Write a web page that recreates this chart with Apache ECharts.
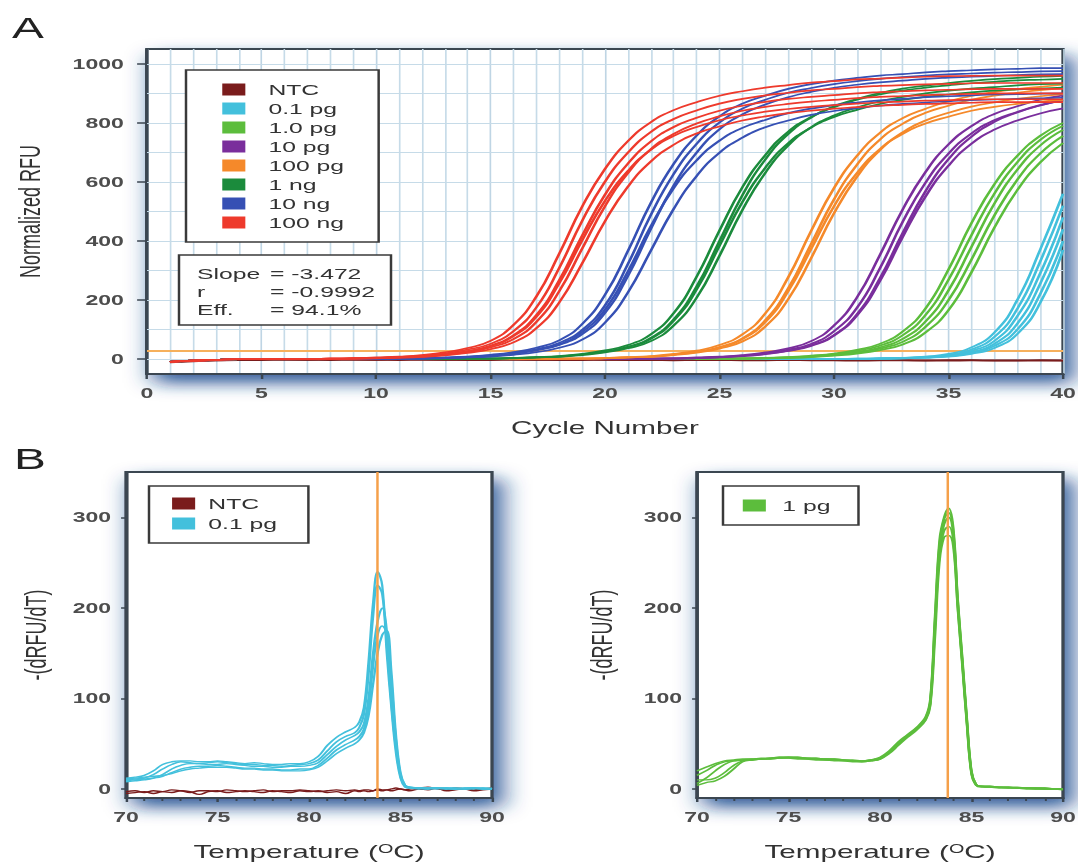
<!DOCTYPE html>
<html><head><meta charset="utf-8">
<script src="https://cdn.jsdelivr.net/npm/echarts@6/dist/echarts.min.js"></script>
<style>
html,body{margin:0;padding:0;background:#fff;overflow:hidden;}
#wrap{width:1078px;height:864px;overflow:hidden;position:relative;}
#chart{width:654px;height:864px;transform:scaleX(1.64832);transform-origin:0 0;}
</style></head><body>
<div id="wrap"><div id="chart"></div></div>
<script>
// ---------------- DATA ----------------
const cycles = [1,2,3,4,5,6,7,8,9,10,11,12,13,14,15,16,17,18,19,20,21,22,23,24,25,26,27,28,29,30,31,32,33,34,35,36,37,38,39,40];
const ampNames = ['NTC','0.1 pg','1.0 pg','10 pg','100 pg','1 ng','10 ng','100 ng'];
const thresholdRFU = 30;
const yTicksA = [0,200,400,600,800,1000];
const yGridA = [0,100,200,300,400,500,600,700,800,900,1000];
const statLabels = ['Slope','r','Eff.'];
const statValues = ['= -3.472','= -0.9992','= 94.1%'];

const ntcCurves = [
 [-9,-6,-4,-3,-3,-2,-2,-3,-2,-2, -3,-2,-2,-3,-3,-2,-2,-3,-3,-2, -3,-3,-4,-3,-3,-4,-4,-3,-4,-4, -5,-4,-4,-5,-5,-4,-5,-5,-5,-5],
 [-11,-7,-4,-2,-1,-1,-2,-1,-1,-2, -1,-1,-2,-2,-1,-1,-2,-2,-1,-2, -2,-1,-2,-2,-3,-2,-2,-3,-3,-2, -3,-3,-3,-4,-3,-3,-4,-4,-3,-4]
];
const curves01pg = [
 [-9,-5,-2,0,0,0,0,0,0,0, 0,0,0,0,0,0,0,0,0,0, 0,1,1,1,1,1,1,1,1,1, 2,3,5,9,18,40,90,200,370,560],
 [-9,-5,-2,0,0,0,0,0,0,0, 0,0,0,0,0,0,0,0,0,0, 0,1,1,1,1,1,1,1,1,1, 2,3,5,8,15,33,75,170,330,520],
 [-9,-5,-2,0,0,0,0,0,0,0, 0,0,0,0,0,0,0,0,0,0, 0,1,1,1,1,1,1,1,1,1, 1,2,4,7,13,28,62,145,290,480],
 [-9,-5,-2,0,0,0,0,0,0,0, 0,0,0,0,0,0,0,0,0,0, 0,1,1,1,1,1,1,1,1,1, 1,2,4,6,11,24,52,120,255,440],
 [-9,-5,-2,0,0,0,0,0,0,0, 0,0,0,0,0,0,0,0,0,0, 0,1,1,1,1,1,1,1,1,1, 1,2,3,5,10,21,45,100,220,400],
 [-9,-5,-2,0,0,0,0,0,0,0, 0,0,0,0,0,0,0,0,0,0, 0,1,1,1,1,1,1,1,1,1, 1,2,3,5,9,18,38,85,190,370]
];
const curves1pg = [
 [-9,-5,-2,0,0,0,0,0,0,0, 0,0,1,1,1,1,1,1,1,1, 1,1,1,2,2,3,5,7,12,19, 32,52,94,172,304,460,592,688,756,800],
 [-9,-5,-2,0,0,0,0,0,0,0, 0,0,1,1,1,1,1,1,1,1, 1,1,1,2,2,3,4,6,11,17, 29,46,81,150,269,420,560,666,742,790],
 [-9,-5,-2,0,0,0,0,0,0,0, 0,0,1,1,1,1,1,1,1,1, 1,1,1,2,2,2,4,6,9,16, 25,40,69,128,233,380,526,641,723,776],
 [-9,-5,-2,0,0,0,0,0,0,0, 0,0,1,1,1,1,1,1,1,1, 1,1,1,2,2,2,3,5,8,14, 22,36,59,110,200,337,486,607,696,756],
 [-9,-5,-2,0,0,0,0,0,0,0, 0,0,1,1,1,1,1,1,1,1, 1,1,1,2,2,2,3,4,7,12, 19,31,50,91,166,294,445,572,666,732]
];
const curves10pg = [
 [-9,-5,-2,0,0,0,0,0,0,0, 1,1,1,1,1,1,1,1,1,1, 2,2,3,6,9,14,23,37,61,114, 209,352,507,634,727,789,830,856,878,893],
 [-9,-5,-2,0,0,0,0,0,0,0, 1,1,1,1,1,1,1,1,1,1, 2,2,3,5,7,12,20,33,52,95, 174,307,465,598,696,764,809,837,860,876],
 [-9,-5,-2,0,0,0,0,0,0,0, 1,1,1,1,1,1,1,1,1,1, 2,2,2,4,6,10,17,28,45,80, 148,264,414,551,655,729,777,808,832,849],
 [-9,-5,-2,0,0,0,0,0,0,0, 1,1,1,1,1,1,1,1,1,1, 2,2,2,4,7,11,18,29,47,82, 152,273,427,569,677,753,803,835,859,877]
];
const curves100pg = [
 [-9,-5,-2,0,0,0,0,0,1,1, 1,1,1,1,1,1,1,2,3,4, 7,11,18,29,48,84,155,277,434,579, 688,766,816,848,873,891,904,914,922,929],
 [-9,-5,-2,0,0,0,0,0,1,1, 1,1,1,1,1,1,1,2,2,4, 6,9,16,25,41,71,132,240,390,541, 658,743,797,834,858,878,892,902,911,917],
 [-9,-5,-2,0,0,0,0,0,1,1, 1,1,1,1,1,1,1,2,2,3, 6,8,14,22,36,60,111,203,342,494, 617,707,768,808,834,855,869,881,890,897],
 [-9,-5,-2,0,0,0,0,0,1,1, 1,1,1,1,1,1,1,2,2,4, 6,9,15,24,39,68,126,230,373,518, 630,711,763,798,821,841,854,864,872,878]
];
const curves1ng = [
 [-9,-5,-2,0,0,0,0,1,1,1, 1,1,1,2,3,4,7,11,18,30, 48,84,156,279,436,582,691,770,820,853, 878,896,909,919,927,934,939,944,946,949],
 [-9,-5,-2,0,0,0,0,1,1,1, 1,1,1,2,2,4,6,10,16,26, 42,72,135,246,400,555,676,762,818,856, 881,901,916,926,935,942,948,952,956,959],
 [-9,-5,-2,0,0,0,0,1,1,1, 1,1,1,2,2,4,6,9,16,25, 41,69,130,236,384,532,648,731,784,820, 844,864,878,888,896,903,909,913,916,919],
 [-9,-5,-2,0,0,0,0,1,1,1, 1,1,1,2,2,3,6,8,14,23, 37,61,114,208,350,505,631,723,785,825, 852,873,888,900,909,916,921,927,931,933]
];
const curves10ng = [
 [-9,-5,-2,0,0,0,1,1,1,1, 2,3,6,9,15,24,39,64,119,218, 366,529,661,757,822,865,892,915,931,943, 952,960,965,971,975,978,981,983,985,985],
 [-9,-5,-2,0,0,0,1,1,1,1, 2,3,5,8,13,20,34,55,99,182, 322,488,627,729,801,848,878,902,918,931, 941,949,955,960,964,967,970,972,974,975],
 [-9,-5,-2,0,0,0,1,1,1,1, 2,3,5,7,12,19,32,50,92,168, 297,450,579,673,740,783,810,833,848,860, 869,876,881,887,890,893,896,897,899,900],
 [-9,-5,-2,0,0,0,1,1,1,1, 2,3,4,7,11,18,30,48,85,157, 282,441,588,699,778,829,862,887,905,919, 929,937,943,949,953,956,959,962,964,965],
 [-9,-5,-2,0,0,0,1,1,1,1, 2,2,4,6,9,15,24,39,66,124, 226,367,509,620,699,750,785,808,827,840, 850,858,864,869,873,877,879,881,883,885]
];
const curves100ng = [
 [-9,-5,-2,0,0,1,1,2,3,6, 9,14,23,38,62,116,212,357,516,644, 738,802,843,870,892,907,919,928,936,941, 947,950,953,956,958,959,960,960,960,960],
 [-9,-5,-2,0,0,1,1,2,3,5, 7,12,20,33,52,95,175,309,468,601, 699,769,813,842,865,881,893,902,910,915, 921,925,928,930,932,934,935,935,935,935],
 [-9,-5,-2,0,0,1,1,2,3,4, 6,11,17,28,46,81,149,267,418,557, 662,737,786,817,841,858,871,881,888,894, 900,904,907,910,912,914,915,915,915,915],
 [-9,-5,-2,0,0,1,1,2,3,4, 6,10,17,27,44,78,143,257,402,536, 637,709,756,786,809,825,838,847,854,860, 865,869,872,875,877,879,880,880,880,880],
 [-9,-5,-2,0,0,1,1,1,2,4, 6,9,15,24,40,68,126,230,374,518, 630,711,763,798,822,841,854,864,872,878, 884,888,891,894,896,898,900,900,900,900],
 [-9,-5,-2,0,0,1,1,1,2,3, 5,8,13,21,34,57,105,192,324,467, 584,669,726,764,788,808,822,833,841,848, 853,858,861,864,866,868,870,870,870,870]
];

// Melt curves (panel B)
const meltTemps = [70,70.5,71,71.5,72,72.5,73,73.5,74,74.5,75,75.5,76,76.5,77,77.5,78,78.5,79,79.5,80,80.5,81,81.5,82,82.5,82.75,83,83.25,83.5,83.75,84,84.25,84.5,84.75,85,85.25,85.5,86,86.5,87,87.5,88,88.5,89,89.5,90];
const meltTm = 83.7;
const yTicksB = [0,100,200,300];
const meltNamesLeft = ['NTC','0.1 pg'];
const meltNamesRight = ['1 pg'];
const meltNTC = [
 [-3,-2,-4,-2,-3,-1,-2,-4,-2,-2, -3,-1,-2,-3,-2,-1,-3,-2,-2,-1, -2,-3,-2,-1,-2,-1,-2,-1,-1,-2, 0,-1,-1,0,1,0,-1,0,1,2, 0,-1,1,0,-1,0,1],
 [-5,-4,-3,-5,-3,-4,-2,-3,-6,-3, -2,-4,-3,-2,-3,-4,-2,-3,-4,-2, -3,-2,-4,-3,-5,-2,-3,-2,-3,-2, -1,-2,-1,-2,-1,0,-1,-2,0,-1, 1,-2,-1,0,-2,-1,0]
];
const melt01pg = [
 [12,13,15,20,27,30,31,31,30,30, 31,30,29,28,29,28,27,27,28,28, 30,36,48,57,63,68,74,90,140,205, 240,225,150,90,40,12,2,1,0,1, 1,0,1,0,1,0,1],
 [10,11,12,16,22,27,30,29,28,29, 30,29,28,27,27,26,26,25,26,27, 28,32,42,52,58,62,68,82,125,190, 225,215,160,95,45,14,3,1,1,0, 1,1,0,1,1,0,0],
 [8,9,10,12,16,22,26,28,28,27, 27,28,27,26,25,25,24,24,25,25, 26,29,38,47,54,59,63,72,100,150, 185,200,175,110,50,15,3,2,1,1, 0,1,1,0,0,1,0],
 [9,10,11,12,14,18,22,24,25,25, 26,25,24,23,23,22,22,21,21,22, 22,26,34,43,49,54,58,66,90,135, 170,180,172,120,55,16,4,2,1,1, 1,0,0,1,1,0,0],
 [11,12,13,14,15,17,20,22,23,24, 24,24,23,22,22,21,21,20,20,20, 21,24,31,39,45,50,54,62,80,115, 150,170,175,130,60,18,4,2,1,0, 1,1,0,0,1,1,0]
];
const melt1pg = [
 [20,24,28,31,32,33,33,34,34,35, 35,35,34,34,33,33,32,32,31,32, 35,42,52,60,68,80,100,190,275,300, 310,290,210,145,78,20,5,3,3,2, 2,2,1,1,1,0,0],
 [6,12,20,27,31,32,33,33,34,34, 35,34,34,33,33,32,32,31,31,32, 34,41,50,59,67,78,96,180,265,292, 300,282,205,140,74,18,5,3,2,2, 2,1,1,1,0,0,0],
 [10,10,12,18,26,31,32,33,33,34, 34,34,33,33,32,32,31,31,30,31, 33,40,49,58,66,77,94,175,258,285, 290,275,200,138,72,17,4,3,2,2, 1,1,1,0,0,0,0],
 [15,20,26,30,31,32,32,33,33,34, 34,33,33,32,32,31,31,30,30,31, 33,39,48,57,65,76,92,165,250,278, 280,268,198,135,70,16,4,2,2,1, 1,1,0,0,0,0,-1],
 [4,7,9,14,22,30,32,33,34,35, 35,35,34,34,33,33,32,31,31,32, 34,41,51,59,67,79,98,185,270,298, 305,286,208,142,76,19,5,3,3,2, 2,1,1,1,1,0,0]
];

// ---------------- STYLE / LAYOUT ----------------
const SX = 1078 / 654;
const px = v => v / SX;
const FONT = '"Liberation Sans", Arial, Helvetica, sans-serif';
const ampColors = ['#7a1c1c','#43c0dc','#5cbd3c','#7a2e9c','#f5892a','#1b8b3c','#3650b4','#ee3a2c'];
const ampCurves = [ntcCurves, curves01pg, curves1pg, curves10pg, curves100pg, curves1ng, curves10ng, curves100ng];
const axisDark = '#3b4651';
const tickLabel = {fontSize:14, fontWeight:'bold', color:'#4d4d4d', fontFamily:FONT, formatter: v => String(v)};

const series = [];
series.push({type:'line', xAxisIndex:0, yAxisIndex:0, data:[], silent:true, animation:false,
  markLine:{silent:true, z:1, animation:false, symbol:['none','none'], label:{show:false},
    lineStyle:{color:'#c6dbe8', width:1, type:'solid'}, data: yGridA.map(v => ({yAxis:v}))}});
series.push({type:'line', xAxisIndex:0, yAxisIndex:0, data:[], silent:true, animation:false,
  markLine:{silent:true, z:1, animation:false, symbol:['none','none'], label:{show:false},
    lineStyle:{color:'#f6b05c', width:2, type:'solid'}, data:[{yAxis:thresholdRFU}]}});

ampCurves.forEach((reps, gi) => reps.forEach(rep => series.push({
  type:'line', name:ampNames[gi], xAxisIndex:0, yAxisIndex:0,
  data: cycles.map((c, i) => [c, rep[i]]),
  showSymbol:false, symbol:'none', smooth:0.5, silent:true, animation:false,
  lineStyle:{color:ampColors[gi], width:1.7}, itemStyle:{color:ampColors[gi]}
})));

function meltSeries(name, color, reps, idx) {
  reps.forEach(rep => series.push({
    type:'line', name, xAxisIndex:idx, yAxisIndex:idx,
    data: meltTemps.map((t, i) => [t, rep[i]]),
    showSymbol:false, symbol:'none', smooth:0.4, silent:true, animation:false,
    lineStyle:{color, width:1.4}, itemStyle:{color}
  }));
}
meltSeries('NTC', ampColors[0], meltNTC, 1);
meltSeries('0.1 pg', ampColors[1], melt01pg, 1);
meltSeries('1 pg', ampColors[2], melt1pg, 2);
[1,2].forEach(idx => series.push({type:'line', xAxisIndex:idx, yAxisIndex:idx, data:[], silent:true, animation:false,
  markLine:{silent:true, z:5, animation:false, symbol:['none','none'], label:{show:false},
    lineStyle:{color:'#f5a04a', width:1.5, type:'solid'}, data:[{xAxis:meltTm}]}}));

const gridBase = {show:true, backgroundColor:'#fff', borderColor:axisDark, borderWidth:2,
  shadowColor:'rgba(20,70,140,0.9)', shadowBlur:16, shadowOffsetX:5, shadowOffsetY:8};

const tempName = '{t|Temperature (}{s|O}{t|C)}';
const tempNameStyle = {fontSize:18, color:'#333', fontFamily:FONT,
  rich:{t:{fontSize:18, color:'#333', fontFamily:FONT}, s:{fontSize:12, color:'#333', fontFamily:FONT, verticalAlign:'top'}}};

function meltX(gi) {
  return {gridIndex:gi, type:'value', min:70, max:90, interval:5,
    name:tempName, nameLocation:'middle', nameGap:45, nameTextStyle:tempNameStyle,
    axisLine:{show:true, onZero:false, lineStyle:{color:axisDark, width:2}},
    axisTick:{show:true, length:4, lineStyle:{color:axisDark, width:1.5}},
    minorTick:{show:true, splitNumber:5, length:3, lineStyle:{color:axisDark, width:1.2}},
    axisLabel:Object.assign({margin:12}, tickLabel), splitLine:{show:false}};
}
function meltY(gi, gap) {
  return {gridIndex:gi, type:'value', min:-10, max:350,
    name:'-(dRFU/dT)', nameLocation:'middle', nameGap:gap, nameRotate:90,
    nameTextStyle:{fontSize:18, color:'#333', fontFamily:FONT},
    axisLine:{show:true, onZero:false, lineStyle:{color:axisDark, width:2}},
    axisTick:{show:true, length:3, customValues:yTicksB, lineStyle:{color:axisDark, width:1.5}},
    axisLabel:Object.assign({margin:9, customValues:yTicksB}, tickLabel), splitLine:{show:false}};
}

const legendBase = {orient:'vertical', icon:'rect', itemWidth:14, itemHeight:12, selectedMode:false,
  borderColor:'#3a3a3a', borderWidth:1.5, backgroundColor:'#fff', z:20};

const option = {
  animation:false,
  backgroundColor:'#fff',
  textStyle:{fontFamily:FONT},
  grid:[
    Object.assign({left:px(147), right:654 - px(1063), top:49, bottom:490, outerBoundsMode:'none'}, gridBase),
    Object.assign({left:px(126), right:654 - px(492), top:472, bottom:66, outerBoundsMode:'none'}, gridBase),
    Object.assign({left:px(697), right:654 - px(1063), top:472, bottom:66, outerBoundsMode:'none'}, gridBase)
  ],
  xAxis:[
    {gridIndex:0, type:'value', min:0, max:40, interval:5,
      name:'Cycle Number', nameLocation:'middle', nameGap:45,
      nameTextStyle:{fontSize:18, color:'#333', fontFamily:FONT},
      axisLine:{show:true, onZero:false, lineStyle:{color:axisDark, width:2}},
      axisTick:{show:true, length:5, lineStyle:{color:axisDark, width:1.5}},
      axisLabel:Object.assign({margin:12}, tickLabel),
      splitLine:{show:true, lineStyle:{color:'#bfd5e4', width:1}},
      minorTick:{show:false, splitNumber:5},
      minorSplitLine:{show:true, lineStyle:{color:'#c6dbe8', width:1}}},
    meltX(1), meltX(2)
  ],
  yAxis:[
    {gridIndex:0, type:'value', min:-50, max:1050,
      name:'Normalized RFU', nameLocation:'middle', nameGap:62, nameRotate:90,
      nameTextStyle:{fontSize:18, color:'#333', fontFamily:FONT},
      axisLine:{show:true, onZero:false, lineStyle:{color:axisDark, width:2}},
      axisTick:{show:true, length:6, customValues:yTicksA, lineStyle:{color:axisDark, width:1.5}},
      axisLabel:Object.assign({margin:14, customValues:yTicksA}, tickLabel),
      splitLine:{show:false}},
    meltY(1, 46), meltY(2, 49)
  ],
  legend:[
    Object.assign({}, legendBase, {data:ampNames, left:px(186), top:70, itemGap:4, padding:[12,21,12,22],
      textStyle:{fontSize:15, color:'#333', fontFamily:FONT, padding:[0,0,0,9]}}),
    Object.assign({}, legendBase, {data:meltNamesLeft, left:px(149), top:486, itemGap:5, padding:[10,19,12,14],
      textStyle:{fontSize:15, color:'#333', fontFamily:FONT, padding:[0,0,0,3]}}),
    Object.assign({}, legendBase, {data:meltNamesRight, left:px(723), top:486, itemGap:5, padding:[12,17,12,12],
      textStyle:{fontSize:15, color:'#333', fontFamily:FONT, padding:[0,0,0,5]}})
  ],
  graphic:[
    {type:'rect', z:100, shape:{x:px(179), y:255, width:px(212), height:70},
      style:{fill:'#fff', stroke:'#3a3a3a', lineWidth:1.5}},
    ...statLabels.map((t, i) => ({type:'text', z:101, x:px(197), y:273 + i * 18,
      style:{text:t, fontSize:15, fontFamily:FONT, fill:'#333', verticalAlign:'middle'}})),
    ...statValues.map((t, i) => ({type:'text', z:101, x:px(270), y:273 + i * 18,
      style:{text:t, fontSize:15, fontFamily:FONT, fill:'#333', verticalAlign:'middle'}})),
    {type:'text', z:101, x:px(12), y:13, style:{text:'A', fontSize:29, fontFamily:FONT, fill:'#222', verticalAlign:'top'}},
    {type:'text', z:101, x:px(14), y:444, style:{text:'B', fontSize:29, fontFamily:FONT, fill:'#222', verticalAlign:'top'}}
  ],
  series: series
};

const chart = echarts.init(document.getElementById('chart'), null, {renderer:'svg', width:654, height:864});
chart.setOption(option);
</script>
</body></html>
